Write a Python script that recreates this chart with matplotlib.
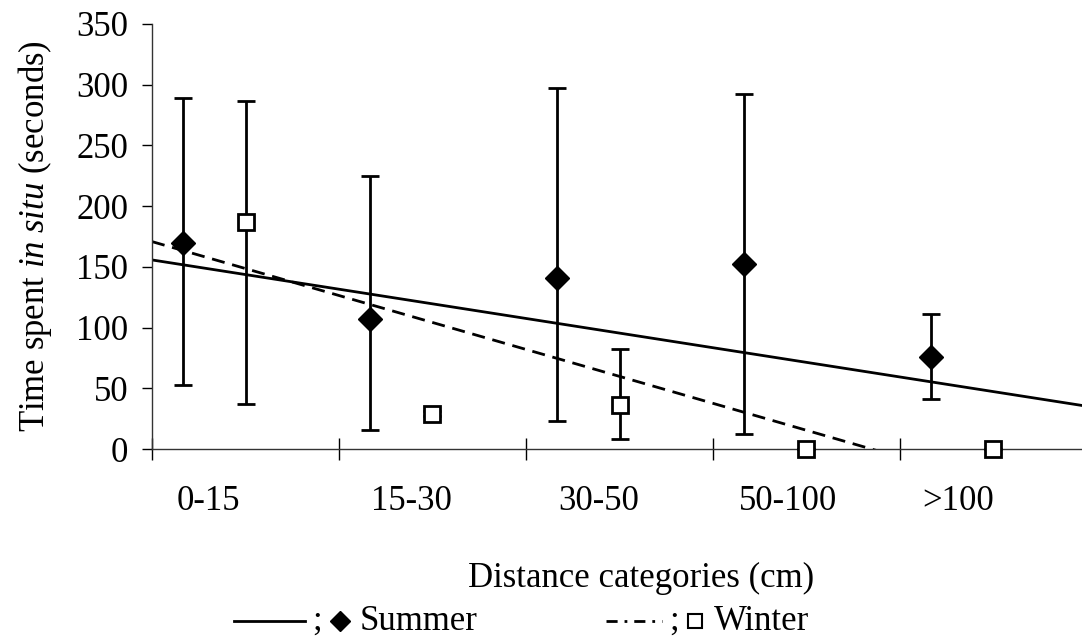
import matplotlib
matplotlib.use("Agg")
import matplotlib.pyplot as plt
import numpy as np
from matplotlib.lines import Line2D

plt.rcParams['font.family'] = ['Liberation Serif', 'DejaVu Sans']
plt.rcParams['mathtext.fontset'] = 'custom'
plt.rcParams['mathtext.rm'] = 'Liberation Serif'
plt.rcParams['mathtext.it'] = 'Liberation Serif:italic'

# Distance categories and mean time spent in situ (seconds)
categories = ['0-15', '15-30', '30-50', '50-100', '>100']
summer_mean = [170, 107, 141, 152, 76]
summer_upper = [289, 225, 297, 292, 111]
summer_lower = [53, 16, 23, 12, 41]
winter_mean = [187, 29, 36, 0, 0]
winter_upper = [287, 31, 82, 0, 0]
winter_lower = [37, 27, 8, 0, 0]

# Linear trends: value at the left axis edge and change per category
summer_trend = (155.7, -24.1)
winter_trend = (170.8, -44.4)

FS = 25
LW = 2.0
W, H = 1082, 640
fig = plt.figure(figsize=(W / 100, H / 100), dpi=100)
ax = fig.add_axes([152 / W, 191 / H, 930 / W, 425 / H])

n = len(categories)
centers = np.arange(n) + 0.5
xs = centers - 1 / 3
xw = centers

s_mean = np.array(summer_mean, float)
w_mean = np.array(winter_mean, float)
s_err = [s_mean - np.array(summer_lower), np.array(summer_upper) - s_mean]
w_err = [w_mean - np.array(winter_lower), np.array(winter_upper) - w_mean]

xmax = 930 / 187
xt = np.array([0, xmax])
ax.plot(xt, summer_trend[0] + summer_trend[1] * xt, color='black', lw=LW, zorder=2)
ax.plot(xt, winter_trend[0] + winter_trend[1] * xt, color='black', lw=LW,
        dashes=(4.7, 2.8), zorder=2)

ax.errorbar(xs, s_mean, yerr=s_err, fmt='D', color='black', ms=12,
            mfc='black', mec='black', ecolor='black', elinewidth=LW,
            capsize=6.5, capthick=LW, zorder=4, clip_on=False)
ax.errorbar(xw, w_mean, yerr=w_err, fmt='s', color='black', ms=12,
            mfc='white', mec='black', mew=LW, ecolor='black', elinewidth=LW,
            capsize=6.5, capthick=LW, zorder=4, clip_on=False)

ax.set_xlim(0, xmax)
ax.set_ylim(0, 350)
ax.set_yticks(np.arange(0, 351, 50))
ax.tick_params(axis='y', direction='out', length=7, width=1, labelsize=FS, pad=10)

# Category boundaries as ticks; category names placed between them
ax.set_xticks(np.arange(0, n))
ax.set_xticklabels([])
ax.tick_params(axis='x', which='major', direction='inout', length=16, width=1)
label_shift = np.array([-0.2, -0.11, -0.11, -0.1, -0.19])
ax.set_xticks(centers + label_shift, minor=True)
ax.set_xticklabels(categories, minor=True, fontsize=FS)
ax.tick_params(axis='x', which='minor', length=0, pad=26)

for side in ('top', 'right'):
    ax.spines[side].set_visible(False)
for side in ('left', 'bottom'):
    ax.spines[side].set_linewidth(1)
    ax.spines[side].set_color('#333333')

fig.text(641 / W, 1 - 578 / H, 'Distance categories (cm)', fontsize=FS,
         ha='center', va='center')
fig.text(35 / W, 1 - 236 / H, r'Time spent $\mathit{in\ situ}$ (seconds)',
         fontsize=FS, ha='center', va='center', rotation=90)

# Legend row
ly = 1 - 621 / H
fig.add_artist(Line2D([234 / W, 305 / W], [ly, ly], color='black', lw=LW))
fig.text(312 / W, ly, ';', fontsize=FS, ha='left', va='center')
fig.add_artist(Line2D([340 / W], [ly], marker='D', ms=10, color='black', lw=0))
fig.text(360 / W, ly, 'Summer', fontsize=FS, ha='left', va='center')
fig.add_artist(Line2D([606 / W, 662 / W], [ly, ly], color='black', lw=LW,
                      dashes=(4, 2.5, 1, 2.5)))
fig.text(669 / W, ly, ';', fontsize=FS, ha='left', va='center')
fig.add_artist(Line2D([695 / W], [ly], marker='s', ms=10, mfc='white',
                      mec='black', mew=1.5, lw=0))
fig.text(714 / W, ly, 'Winter', fontsize=FS, ha='left', va='center')

fig.savefig('out.png', dpi=100)
